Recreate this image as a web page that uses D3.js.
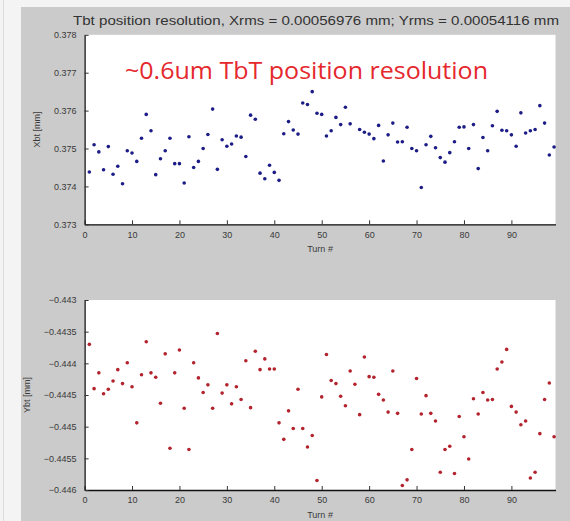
<!DOCTYPE html>
<html>
<head>
<meta charset="utf-8">
<script src="https://cdn.jsdelivr.net/npm/d3@7"></script>
<style>
  body { margin: 0; background: #f4f4f4; }
  svg { display: block; font-family: "Liberation Sans", Arial, sans-serif; }
</style>
</head>
<body>
<svg id="chart"></svg>
<script>
// Turn numbers and beam position readings (turn 57 of Xbt is hidden by the note)
const turns = d3.range(1, 100);

const xbt = [
  0.37438, 0.37510, 0.37491, 0.37444, 0.37505, 0.37432, 0.37453, 0.37407, 0.37494, 0.37488,
  0.37466, 0.37527, 0.37590, 0.37547, 0.37431, 0.37473, 0.37494, 0.37527, 0.37460, 0.37460,
  0.37409, 0.37531, 0.37450, 0.37466, 0.37500, 0.37537, 0.37604, 0.37445, 0.37523, 0.37506,
  0.37512, 0.37533, 0.37530, 0.37479, 0.37588, 0.37577, 0.37435, 0.37420, 0.37456, 0.37437,
  0.37416, 0.37539, 0.37571, 0.37549, 0.37538, 0.37620, 0.37616, 0.37650, 0.37593, 0.37590,
  0.37533, 0.37547, 0.37582, 0.37563, 0.37609, 0.37565, null, 0.37550, 0.37543, 0.37538,
  0.37526, 0.37561, 0.37467, 0.37536, 0.37567, 0.37517, 0.37518, 0.37556, 0.37500, 0.37494,
  0.37397, 0.37510, 0.37532, 0.37502, 0.37476, 0.37464, 0.37489, 0.37518, 0.37556, 0.37557,
  0.37500, 0.37563, 0.37447, 0.37529, 0.37494, 0.37560, 0.37598, 0.37548, 0.37547, 0.37536,
  0.37506, 0.37594, 0.37541, 0.37547, 0.37550, 0.37613, 0.37567, 0.37483, 0.37504
];

const ybt = [
  -0.44370, -0.44440, -0.44415, -0.44448, -0.44441, -0.44428, -0.44410, -0.44432, -0.44399, -0.44437,
  -0.44494, -0.44418, -0.44366, -0.44415, -0.44422, -0.44463, -0.44385, -0.44534, -0.44415, -0.44379,
  -0.44471, -0.44536, -0.44399, -0.44423, -0.44446, -0.44434, -0.44471, -0.44353, -0.44447, -0.44434,
  -0.44464, -0.44437, -0.44457, -0.44396, -0.44470, -0.44381, -0.44410, -0.44393, -0.44409, -0.44409,
  -0.44494, -0.44520, -0.44475, -0.44503, -0.44441, -0.44503, -0.44532, -0.44514, -0.44585, -0.44453,
  -0.44386, -0.44427, -0.44432, -0.44452, -0.44467, -0.44412, -0.44433, -0.44481, -0.44390, -0.44421,
  -0.44422, -0.44449, -0.44458, -0.44477, -0.44412, -0.44479, -0.44593, -0.44584, -0.44536, -0.44424,
  -0.44480, -0.44451, -0.44479, -0.44491, -0.44572, -0.44536, -0.44531, -0.44574, -0.44484, -0.44516,
  -0.44551, -0.44456, -0.44480, -0.44446, -0.44458, -0.44457, -0.44409, -0.44398, -0.44378, -0.44468,
  -0.44477, -0.44497, -0.44491, -0.44581, -0.44572, -0.44511, -0.44457, -0.44431, -0.44516
];

const xTicks = [0, 10, 20, 30, 40, 50, 60, 70, 80, 90];
const xbtTicks = [0.373, 0.374, 0.375, 0.376, 0.377, 0.378];
const ybtTicks = [-0.446, -0.4455, -0.445, -0.4445, -0.444, -0.4435, -0.443];

const titleText = "Tbt position resolution, Xrms = 0.00056976 mm; Yrms = 0.00054116 mm";
const noteText = "~0.6um TbT position resolution";

// Canvas
const W = 570, H = 521;
const svg = d3.select("#chart").attr("width", W).attr("height", H);

// Figure background (MATLAB grey)
svg.append("rect").attr("x", 0).attr("y", 0).attr("width", W).attr("height", H).attr("fill", "#f4f4f4");
svg.append("line").attr("x1", 3.5).attr("x2", 3.5).attr("y1", 0).attr("y2", H)
    .attr("stroke", "#dcdcdc").attr("stroke-width", 1);
svg.append("rect").attr("x", 21).attr("y", 7).attr("width", W - 21).attr("height", H - 7).attr("fill", "#cbcbcb");

const plotLeft = 84.6, plotRight = 555.5;

function drawPanel(cfg) {
    const x = d3.scaleLinear().domain([0, 99.3]).range([plotLeft, plotRight]);
    const y = d3.scaleLinear().domain(cfg.domain).range([cfg.bottom, cfg.top]);

    const g = svg.append("g");

    // White plot area
    g.append("rect")
        .attr("x", plotLeft).attr("y", cfg.top)
        .attr("width", plotRight - plotLeft).attr("height", cfg.bottom - cfg.top)
        .attr("fill", "#fff");

    // Axes
    const xAxis = g.append("g")
        .attr("transform", `translate(0,${cfg.bottom})`)
        .call(d3.axisBottom(x).tickValues(xTicks).tickSizeInner(-4).tickSizeOuter(0).tickPadding(7));
    const yAxis = g.append("g")
        .attr("transform", `translate(${plotLeft},0)`)
        .call(d3.axisLeft(y).tickValues(cfg.ticks).tickFormat(cfg.fmt).tickSizeInner(-4).tickSizeOuter(0).tickPadding(8));

    [xAxis, yAxis].forEach(a => {
        a.select(".domain").attr("stroke", "#111").attr("stroke-width", 1.3);
        a.selectAll(".tick line").attr("stroke", "#333");
        a.selectAll(".tick text").attr("fill", "#3a3a3a").style("font-size", "9px");
    });

    // Axis labels
    g.append("text")
        .attr("x", (plotLeft + plotRight) / 2).attr("y", cfg.bottom + 28)
        .attr("text-anchor", "middle").attr("fill", "#3a3a3a")
        .style("font-size", "9px")
        .text("Turn #");

    g.append("text")
        .attr("transform", `translate(${cfg.labelX},${(cfg.top + cfg.bottom) / 2}) rotate(-90)`)
        .attr("text-anchor", "middle").attr("fill", "#3a3a3a")
        .style("font-size", "9px")
        .text(cfg.label);

    // Points
    const pts = turns.map((t, i) => ({ t, v: cfg.values[i] })).filter(d => d.v != null);
    g.selectAll("circle.pt")
        .data(pts)
        .enter()
        .append("circle")
        .attr("class", "pt")
        .attr("cx", d => x(d.t))
        .attr("cy", d => y(d.v))
        .attr("r", 1.8)
        .attr("fill", cfg.color);
}

drawPanel({
    values: xbt, domain: [0.373, 0.378], ticks: xbtTicks, fmt: d3.format(".3f"),
    top: 34.8, bottom: 224.3, label: "Xbt [mm]", labelX: 40, color: "#1c1c86"
});

drawPanel({
    values: ybt, domain: [-0.446, -0.443], ticks: ybtTicks, fmt: d3.format(""),
    top: 300, bottom: 490, label: "Ybt [mm]", labelX: 30, color: "#b3232e"
});

// Title
svg.append("text")
    .attr("x", 316).attr("y", 25)
    .attr("text-anchor", "middle").attr("fill", "#333")
    .style("font-size", "13px")
    .attr("textLength", 486).attr("lengthAdjust", "spacingAndGlyphs")
    .text(titleText);

// Red annotation
svg.append("text")
    .attr("x", 125).attr("y", 79)
    .attr("fill", "#e5282d")
    .style("font-family", "'Open Sans', 'Noto Sans', sans-serif")
    .style("font-size", "23px")
    .attr("textLength", 363).attr("lengthAdjust", "spacingAndGlyphs")
    .text(noteText);
</script>
</body>
</html>
